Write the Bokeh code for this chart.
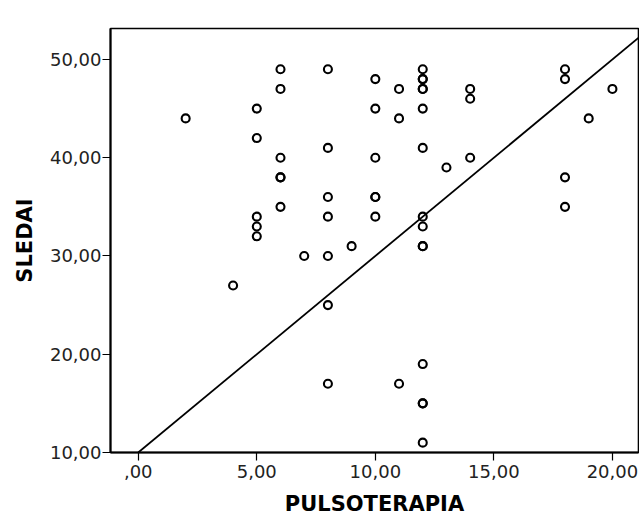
from bokeh.plotting import figure
from bokeh.models import Range1d, Slope, FixedTicker
from bokeh.embed import file_html
from bokeh.resources import INLINE

# Data (PULSOTERAPIA vs SLEDAI); duplicates repeated
pulsoterapia = [2, 4,
                5, 5, 5, 5, 5,
                6, 6, 6, 6, 6, 6,
                7,
                8, 8, 8, 8, 8, 8, 8,
                9,
                10, 10, 10, 10, 10, 10,
                11, 11, 11,
                12, 12, 12, 12, 12, 12, 12, 12, 12, 12, 12, 12, 12, 12, 12,
                13,
                14, 14, 14,
                18, 18, 18, 18,
                19, 20]
sledai = [44, 27,
          45, 42, 34, 33, 32,
          49, 47, 40, 38, 38, 35,
          30,
          49, 41, 36, 34, 30, 25, 17,
          31,
          48, 45, 40, 36, 36, 34,
          47, 44, 17,
          49, 48, 48, 47, 47, 45, 41, 34, 33, 31, 31, 19, 15, 15, 11,
          39,
          47, 46, 40,
          49, 48, 38, 35,
          44, 47]

# Fit line shown in the reference
fit_intercept = 10.0
fit_slope = 2.0

x_ticks = [0, 5, 10, 15, 20]
x_tick_labels = [",00", "5,00", "10,00", "15,00", "20,00"]
y_ticks = [10, 20, 30, 40, 50]
y_tick_labels = ["10,00", "20,00", "30,00", "40,00", "50,00"]

p = figure(width=639, height=518, output_backend="svg", toolbar_location=None,
           x_range=Range1d(-1.17, 21.1), y_range=Range1d(10, 53.15),
           min_border_left=110, min_border_right=1, min_border_top=28,
           min_border_bottom=66)

p.xgrid.visible = False
p.ygrid.visible = False
p.outline_line_color = "black"
p.outline_line_width = 1.6
p.background_fill_color = "white"
p.border_fill_color = "white"

p.add_layout(Slope(gradient=fit_slope, y_intercept=fit_intercept,
                   line_color="black", line_width=1.8))

p.scatter(pulsoterapia, sledai, marker="circle", size=8, line_color="black",
          line_width=2.1, fill_alpha=0)

for ax, ticks, labels in ((p.xaxis[0], x_ticks, x_tick_labels),
                          (p.yaxis[0], y_ticks, y_tick_labels)):
    ax.ticker = FixedTicker(ticks=ticks)
    ax.major_label_overrides = {t: l for t, l in zip(ticks, labels)}
    ax.minor_tick_line_color = None
    ax.major_tick_in = 0
    ax.major_tick_out = 8
    ax.major_tick_line_color = "black"
    ax.major_tick_line_width = 1.2
    ax.axis_line_color = "black"
    ax.axis_line_width = 2
    ax.major_label_text_font = "DejaVu Sans"
    ax.major_label_text_font_size = "18px"
    ax.major_label_text_color = "#222222"
    ax.axis_label_text_font = "DejaVu Sans"
    ax.axis_label_text_font_style = "bold"
    ax.axis_label_text_font_size = "21px"
    ax.axis_label_text_color = "black"

p.xaxis.axis_label = "PULSOTERAPIA"
p.yaxis.axis_label = "SLEDAI"
p.xaxis.major_label_standoff = 4
p.yaxis.major_label_standoff = 1
p.xaxis.axis_label_standoff = 11
p.yaxis.axis_label_standoff = 10

open("out.html", "w").write(file_html(p, INLINE))
